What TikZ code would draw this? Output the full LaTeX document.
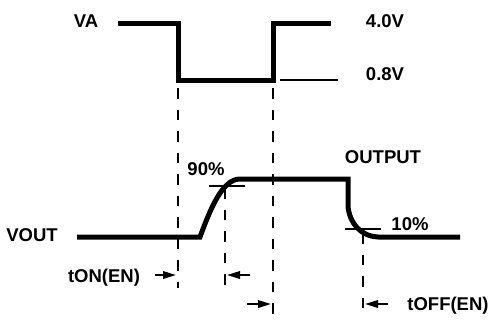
\documentclass[tikz,border=0pt]{standalone}
\usepackage{fontspec}
\setmainfont{Liberation Sans}
\usetikzlibrary{arrows.meta}

\begin{document}
\begin{tikzpicture}[x=1bp, y=-1bp, line width=5bp, line join=miter,
        lbl/.style={font=\bfseries\fontsize{18.5bp}{20bp}\selectfont, anchor=base, inner sep=0pt},
        guide/.style={line width=2.5bp, dash pattern=on 10.5bp off 11bp},
        levelline/.style={line width=1.5bp},
        timearrow/.style={line width=2bp, -{Triangle[length=13bp,width=7.5bp]}}]
        \useasboundingbox (0,0) rectangle (490,320);

        % 输入 VA
        \draw (118,23) -- (178,23) -- (178,80) -- (273,80) -- (273,23) -- (331,23);
        \node[lbl] (va) at (86,27) {VA};
        \node[lbl] (vhi) at (385,27) {4.0V};
        \node[lbl] (vlo) at (385,80) {0.8V};
        \draw[levelline] (280,80) -- (338,80);

        % 输出 VOUT
        \draw (77,237) -- (200,237) .. controls (210,210) and (222,179) .. (240,179)
            -- (348,179) -- (348,207) .. controls (350,223) and (360,236) .. (378,237) -- (460,237);
        \node[lbl] (vout) at (32,241) {VOUT};
        \node[lbl] (out) at (383,163) {OUTPUT};

        % 90% 和 10%
        \draw[levelline] (209,186) -- (245,186);
        \node[lbl] (p90) at (206,175) {90\%};
        \draw[levelline] (345,229) -- (381,229);
        \node[lbl] (p10) at (410,230) {10\%};

        % 虚线
        \draw[guide] (178,88) -- (178,288);
        \draw[guide] (273,88) -- (273,320);
        \draw[guide] (225,188) -- (225,288);
        \draw[guide] (363,233) -- (363,309);

        % 时间箭头
        \draw[timearrow] (155,275) -- (176,275);
        \draw[timearrow] (250,275) -- (227,275);
        \draw[timearrow] (247,304) -- (271,304);
        \draw[timearrow] (388,304) -- (365,304);
        \node[lbl] (ton) at (104,282) {tON(EN)};
        \node[lbl] (toff) at (448,310) {tOFF(EN)};
    \end{tikzpicture}
\end{document}
